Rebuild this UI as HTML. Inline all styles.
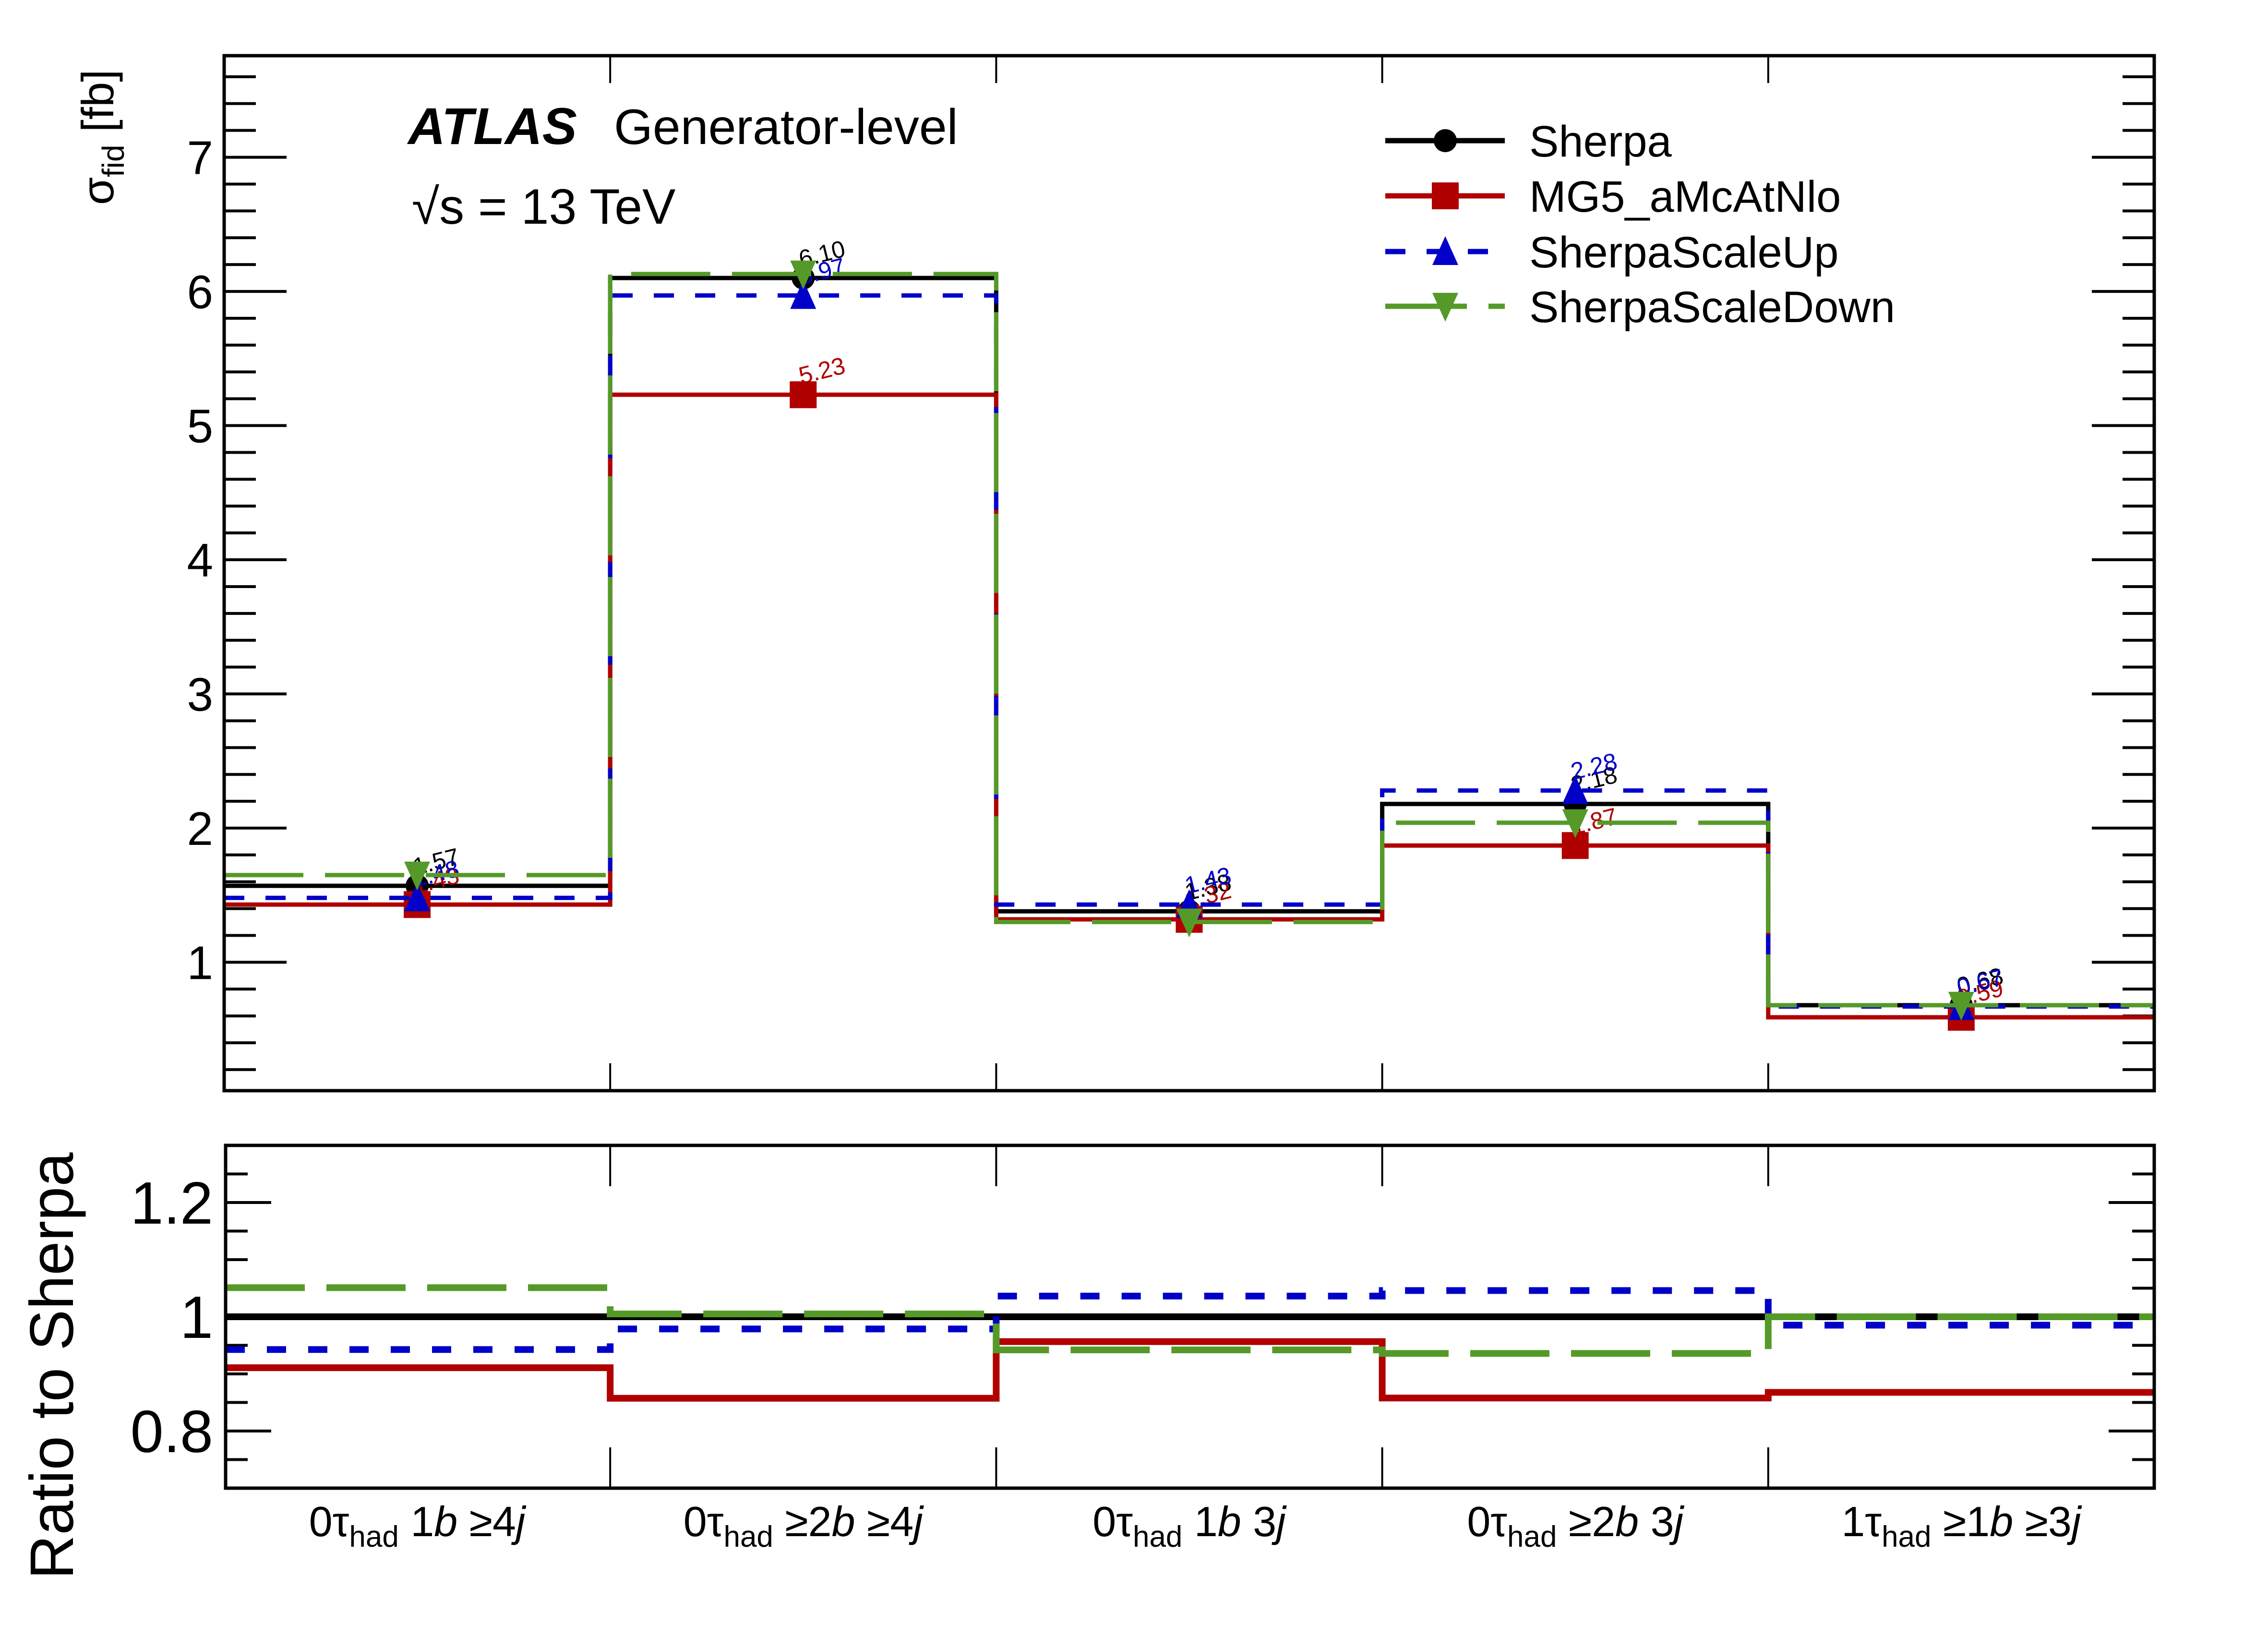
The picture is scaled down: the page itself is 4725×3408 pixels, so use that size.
<!DOCTYPE html>
<html><head><meta charset="utf-8"><style>
html,body{margin:0;padding:0;background:#fff;}
svg{display:block;font-family:"Liberation Sans",Arial,sans-serif;}
</style></head><body>
<svg id="chart" xmlns="http://www.w3.org/2000/svg" width="4725" height="3408" viewBox="0 0 4725 3408">
<rect x="0" y="0" width="4725" height="3408" fill="#fff"/>
<g id="main"></g>
<g id="ratio"></g>
<text x="850" y="300" font-size="108" font-weight="bold" font-style="italic">ATLAS</text>
<text x="1279" y="300" font-size="104">Generator-level</text>
<text x="858" y="466" font-size="104">√s = 13 TeV</text>
<text transform="translate(236,427) rotate(-90)" font-size="94">σ<tspan font-size="64" dy="22">fid</tspan><tspan dy="-22"> [fb]</tspan></text>
<text transform="translate(152,3290) rotate(-90)" font-size="128">Ratio to Sherpa</text>
<g id="legend"></g>
</svg>
<script>
const categories = ["0τhad 1b ≥4j","0τhad ≥2b ≥4j","0τhad 1b 3j","0τhad ≥2b 3j","1τhad ≥1b ≥3j"];
const sherpa = [1.57, 6.10, 1.38, 2.18, 0.68];
const mg5 = [1.43, 5.23, 1.32, 1.87, 0.59];
const scaleUp = [1.48, 5.97, 1.43, 2.28, 0.67];
const scaleDown = [1.65, 6.13, 1.30, 2.04, 0.68];
const yTicks = [1,2,3,4,5,6,7];
const ratioTicks = [0.8,1.0,1.2];
const ratioTickLabels = ["0.8","1","1.2"];

const NS="http://www.w3.org/2000/svg";
function mk(tag, attrs, parent){const e=document.createElementNS(NS,tag);for(const k in attrs)e.setAttribute(k,attrs[k]);parent.appendChild(e);return e;}
const main=document.getElementById('main'), ratio=document.getElementById('ratio'), legend=document.getElementById('legend');

const X0=467, X1=4488, T0=116, T1=2272;
const RX0=470, R0=2386, R1=3100;
const nb=categories.length;
function xEdge(i){return X0+(X1-X0)*i/nb;}
function xCen(i){return X0+(X1-X0)*(i+0.5)/nb;}
const yMin=0.043, yMax=7.757;
function yMain(v){return T1-(v-yMin)/(yMax-yMin)*(T1-T0);}
const rMin=0.7, rMax=1.3;
function yRat(v){return R1-(v-rMin)/(rMax-rMin)*(R1-R0);}

for(let v=0.2; v<yMax; v+=0.2){
  const vv=Math.round(v*10)/10; const major=Math.abs(vv-Math.round(vv))<1e-6;
  const L=major?130:66, y=yMain(vv);
  const t1=mk('line',{x1:X0,y1:y,x2:X0+L,y2:y,stroke:'#000','stroke-width':6},main);
   
  const t2=mk('line',{x1:X1,y1:y,x2:X1-L,y2:y,stroke:'#000','stroke-width':6},main);
   
}
yTicks.forEach(v=>{
  const t=mk('text',{x:444,y:yMain(v)+35,'font-size':98,'text-anchor':'end'},main);
  t.textContent=String(v);
   
});
for(let i=1;i<nb;i++){
  const a=mk('line',{x1:xEdge(i),y1:T0,x2:xEdge(i),y2:T0+57,stroke:'#000','stroke-width':4},main);
   
  const b=mk('line',{x1:xEdge(i),y1:T1,x2:xEdge(i),y2:T1-57,stroke:'#000','stroke-width':4},main);
   
}

const series=[
 {name:'sherpa',vals:sherpa,color:'#000000',dash:'',rdash:'',marker:'circle',label:true},
 {name:'mg5',vals:mg5,color:'#b00000',dash:'',rdash:'',marker:'square',label:true},
 {name:'scale-up',vals:scaleUp,color:'#0000c8',dash:'42 44',rdash:'40 46',marker:'up',label:true},
 {name:'scale-down',vals:scaleDown,color:'#559a28',dash:'165 45',rdash:'165 45',marker:'down',label:false}
];
function stepPath(vals,yf,x0){
  let d='';
  vals.forEach((v,i)=>{const xa=i===0?x0:xEdge(i), xb=xEdge(i+1), y=yf(v);
    d+=(i===0?'M':'L')+xa+' '+y+' L'+xb+' '+y+' ';});
  return d;
}
function marker(type,cx,cy,color,parent){
  let e;
  if(type==='circle') e=mk('circle',{cx:cx,cy:cy,r:24,fill:color},parent);
  else if(type==='square') e=mk('rect',{x:cx-28,y:cy-28,width:56,height:56,fill:color},parent);
  else if(type==='up') e=mk('polygon',{points:`${cx-27},${cy+28} ${cx+27},${cy+28} ${cx},${cy-32}`,fill:color},parent);
  else e=mk('polygon',{points:`${cx-27},${cy-28} ${cx+27},${cy-28} ${cx},${cy+32}`,fill:color},parent);
  return e;
}
series.forEach(s=>{
  const p=mk('path',{d:stepPath(s.vals,yMain,X0),fill:'none',stroke:s.color,'stroke-width':9,'stroke-dasharray':s.dash},main);
   
  s.vals.forEach((v,i)=>{
    const m=marker(s.marker,xCen(i),yMain(v),s.color,main);
     
    if(s.label){
      const t=mk('text',{transform:`translate(${xCen(i)-4},${yMain(v)-22}) rotate(-14)`,'font-size':50,fill:s.color},main);
      t.textContent=v.toFixed(2);
       
    }
  });
});
const fr=mk('rect',{x:X0,y:T0,width:X1-X0,height:T1-T0,fill:'none',stroke:'#000','stroke-width':7},main);
 

for(let k=1;k<12;k++){
  const v=rMin+0.05*k; const major=(k%4===2);
  const L=major?95:46, y=yRat(v);
  const a=mk('line',{x1:RX0,y1:y,x2:RX0+L,y2:y,stroke:'#000','stroke-width':6},ratio);
   
  const b=mk('line',{x1:X1,y1:y,x2:X1-L,y2:y,stroke:'#000','stroke-width':6},ratio);
   
}
ratioTicks.forEach((v,i)=>{
  const t=mk('text',{x:444,y:yRat(v)+44,'font-size':124,'text-anchor':'end'},ratio);
  t.textContent=ratioTickLabels[i];
   
});
for(let i=1;i<nb;i++){
  const a=mk('line',{x1:xEdge(i),y1:R0,x2:xEdge(i),y2:R0+85,stroke:'#000','stroke-width':4},ratio);
   
  const b=mk('line',{x1:xEdge(i),y1:R1,x2:xEdge(i),y2:R1-85,stroke:'#000','stroke-width':4},ratio);
   
}
series.forEach(s=>{
  const r=s.vals.map((v,i)=>v/sherpa[i]);
  const p=mk('path',{d:stepPath(r,yRat,RX0),fill:'none',stroke:s.color,'stroke-width':14,'stroke-dasharray':s.rdash},ratio);
   
});
const rf=mk('rect',{x:RX0,y:R0,width:X1-RX0,height:R1-R0,fill:'none',stroke:'#000','stroke-width':7},ratio);
 

categories.forEach((c,i)=>{
  const m=c.match(/^(\d)τhad (\S+) (\S+)$/);
  const t=mk('text',{x:xCen(i),y:3200,'font-size':88,'text-anchor':'middle'},ratio);
   
  const it=s=>s.replace(/([bj])/g,'<tspan font-style="italic">$1</tspan>');
  t.innerHTML=`${m[1]}τ<tspan font-size="62" dy="22">had</tspan><tspan dy="-22"> </tspan>${it(m[2])} ${it(m[3])}`;
});

const names=['Sherpa','MG5_aMcAtNlo','SherpaScaleUp','SherpaScaleDown'];
const ly=[293,408,524,638];
series.forEach((s,i)=>{
  const l=mk('line',{x1:2886,y1:ly[i],x2:3135,y2:ly[i],stroke:s.color,'stroke-width':11,'stroke-dasharray':s.name==='scale-up'?'42 44':(s.name==='scale-down'?'170 45':'')},legend);
   
  const m=marker(s.marker,3011,ly[i],s.color,legend);
   
  const t=mk('text',{x:3186,y:ly[i]+33,'font-size':92},legend);
  t.textContent=names[i];
   
});
</script>
</body></html>
